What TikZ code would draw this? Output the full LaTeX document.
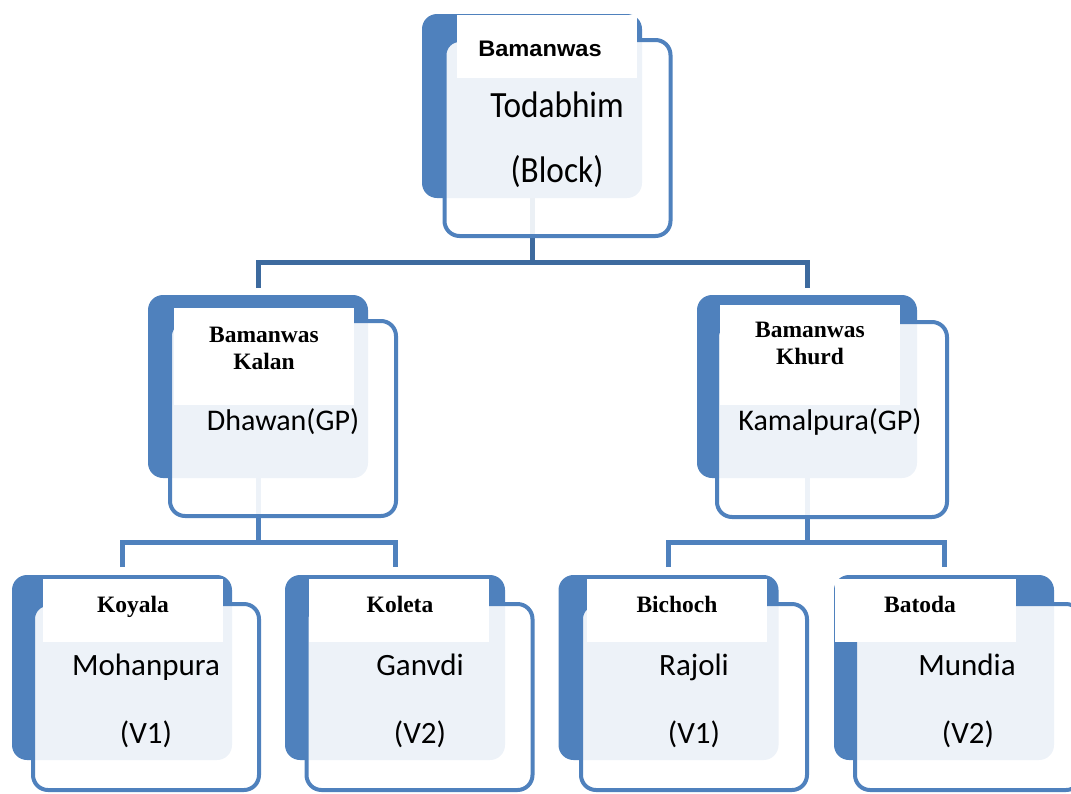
\documentclass[tikz,border=0pt]{standalone}
\usepackage{fontspec}
\usetikzlibrary{backgrounds}
\setmainfont{Carlito}
\newfontfamily\blockfont[FakeStretch=0.9]{Carlito}
\newfontfamily\tagfont{Liberation Serif}
\newfontfamily\toptagfont[FakeStretch=1.05]{Liberation Sans}
\definecolor{officeblue}{HTML}{4F81BD}
\definecolor{linedark}{HTML}{3D6A9E}

\begin{document}
\begin{tikzpicture}[x=1pt,y=-1pt,
    back/.style={rectangle,rounded corners=15pt,fill=officeblue,inner sep=0pt,outer sep=0pt,minimum width=220pt},
    front/.style={rectangle,rounded corners=15pt,draw=officeblue,line width=4pt,fill=white,fill opacity=0.9,inner sep=0pt,outer sep=0pt,minimum width=226pt},
    tag/.style={rectangle,fill=white,inner sep=0pt,outer sep=0pt,minimum width=180pt},
    tagtext/.style={anchor=base,inner sep=0pt,font=\tagfont\bfseries\fontsize{23.5}{27}\selectfont},
    place/.style={anchor=base,inner sep=0pt,font=\fontsize{31}{37}\selectfont},
    link/.style={draw=officeblue,line width=5pt},
    toplink/.style={draw=linedark,line width=5pt}]
                \useasboundingbox (0,0) rectangle (1071,793);
                \node[back,minimum height=184pt] (block) at (532,106) {};
                \node[front,minimum height=196pt] (blockf) at (557.5,138) {};
                \node[tag,minimum height=63pt] (blockl) at (547,46.5) {};
                \node[anchor=base,inner sep=0pt,font=\toptagfont\bfseries\fontsize{22.5}{26}\selectfont] (blockt) at (540,56) {Bamanwas};
                \node[anchor=base,inner sep=0pt,font=\blockfont\fontsize{37}{42}\selectfont] (blockn1) at (557,117) {Todabhim};
                \node[anchor=base,inner sep=0pt,font=\blockfont\fontsize{37}{42}\selectfont] (blockn2) at (557,182) {(Block)};
                \node[back,minimum height=183pt] (dhawan) at (258,386.5) {};
                \node[front,minimum height=195pt] (dhawanf) at (283,418.5) {};
                \node[tag,minimum height=97pt] (dhawanl) at (264,356.5) {};
                \node[tagtext] (dhawant1) at (264,342) {Bamanwas};
                \node[tagtext] (dhawant2) at (264,369) {Kalan};
                \node[place,font=\fontsize{30}{36}\selectfont] (dhawann) at (283,430) {Dhawan(GP)};
                \node[back,minimum height=183pt] (kamal) at (807,386.5) {};
                \node[front,minimum height=195pt,minimum width=230pt] (kamalf) at (832,419.5) {};
                \node[tag,minimum height=100pt] (kamall) at (810,355) {};
                \node[tagtext] (kamalt1) at (810,337) {Bamanwas};
                \node[tagtext] (kamalt2) at (810,364) {Khurd};
                \node[place,font=\fontsize{30}{36}\selectfont] (kamaln) at (830,430) {Kamalpura(GP)};
                \node[back,minimum height=185pt] (mohan) at (122,667.5) {};
                \node[front,minimum height=186pt] (mohanf) at (146,697) {};
                \node[tag,minimum height=63pt] (mohanl) at (133,610.5) {};
                \node[tagtext] (mohant) at (133,612) {Koyala};
                \node[place] (mohann1) at (146,675) {Mohanpura};
                \node[place] (mohann2) at (146,743) {(V1)};
                \node[back,minimum height=185pt] (ganvdi) at (395,667.5) {};
                \node[front,minimum height=186pt] (ganvdif) at (419.5,697) {};
                \node[tag,minimum height=63pt] (ganvdil) at (398.5,610.5) {};
                \node[tagtext] (ganvdit) at (400,612) {Koleta};
                \node[place] (ganvdin1) at (420,675) {Ganvdi};
                \node[place] (ganvdin2) at (420,743) {(V2)};
                \node[back,minimum height=185pt] (rajoli) at (668.5,667.5) {};
                \node[front,minimum height=186pt] (rajolif) at (694,697) {};
                \node[tag,minimum height=63pt] (rajolil) at (677,610.5) {};
                \node[tagtext] (rajolit) at (677,612) {Bichoch};
                \node[place] (rajolin1) at (694,675) {Rajoli};
                \node[place] (rajolin2) at (694,743) {(V1)};
                \node[back,minimum height=185pt] (mundia) at (944,667.5) {};
                \node[front,minimum height=186pt] (mundiaf) at (968,697) {};
                \node[tag,minimum height=63pt,minimum width=181pt] (mundial) at (925.5,610.5) {};
                \node[tagtext] (mundiat) at (920,612) {Batoda};
                \node[place] (mundian1) at (967,675) {Mundia};
                \node[place] (mundian2) at (968,743) {(V2)};
                \coordinate (j1) at (532,262);
                \coordinate (j2) at (258,542);
                \coordinate (j3) at (807,542);
                \begin{scope}[on background layer]
                \draw[toplink] (block.south) -- (j1);
                \draw[toplink,shorten <=7pt,shorten >=7pt] (dhawan.north) |- (j1) -| (kamal.north);
                \draw[link] (dhawan.south) -- (j2);
                \draw[link,shorten <=8pt,shorten >=8pt] (mohan.north) |- (j2) -| (ganvdi.north);
                \draw[link] (kamal.south) -- (j3);
                \draw[link,shorten <=8pt,shorten >=8pt] (rajoli.north) |- (j3) -| (mundia.north);
                \end{scope}
            \end{tikzpicture}
\end{document}
